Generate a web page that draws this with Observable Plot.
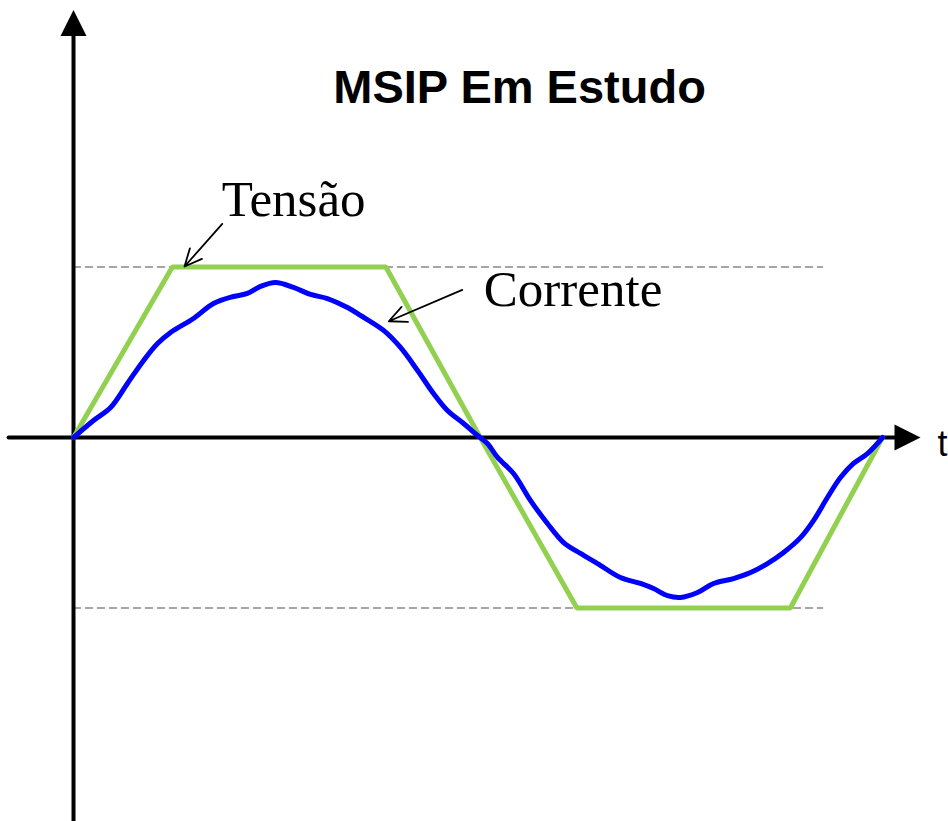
<!DOCTYPE html>
<html>
<head>
<meta charset="utf-8">
<script src="https://cdn.jsdelivr.net/npm/d3@7"></script>
<script src="https://cdn.jsdelivr.net/npm/@observablehq/plot@0.6"></script>
<style>
  html, body { margin: 0; padding: 0; background: #fff; overflow: hidden; }
  #chart svg { display: block; }
</style>
</head>
<body>
<div id="chart"></div>
<script>
// ---- Data (angle in degrees over one period, amplitude in per-unit) ----
const titleText = "MSIP Em Estudo";
const tensaoLabel = "Tensão";
const correnteLabel = "Corrente";
const axisLabel = "t";

// Voltage (trapezoid) – corners
const voltageT = [0, 44, 139, 181, 224, 319, 360];
const voltageV = [0, 1, 1, 0, -1, -1, 0];

// Current (measured, slightly distorted sine)
const currentT = [0, 8.9, 16.5, 24.0, 31.2, 37.4, 43.2, 53.4, 62.3, 71.2, 77.4, 83.2, 89.9, 97.9, 105.5, 113.0, 121.9, 127.7, 138.0, 145.5, 153.1, 160.2, 166.4, 173.6, 179.8, 184.2, 188.7, 195.8, 203.4, 210.9, 218.1, 225.6, 233.2, 243.4, 252.3, 258.1, 264.3, 270.1, 277.7, 284.8, 293.7, 301.3, 308.8, 316.0, 323.5, 329.3, 335.5, 341.3, 347.1, 353.3, 360.0];
const currentV = [0, 0.10, 0.176, 0.317, 0.452, 0.551, 0.616, 0.698, 0.786, 0.827, 0.845, 0.886, 0.909, 0.880, 0.839, 0.815, 0.762, 0.716, 0.628, 0.528, 0.393, 0.258, 0.158, 0.082, 0.012, -0.035, -0.117, -0.211, -0.370, -0.504, -0.616, -0.680, -0.739, -0.821, -0.856, -0.886, -0.927, -0.938, -0.909, -0.856, -0.827, -0.792, -0.739, -0.674, -0.587, -0.487, -0.352, -0.235, -0.152, -0.094, 0];

// Reference (peak) levels and their extent
const levelValues = [1, -1];
const levelExtentT = [0, 333.3];

// Axes extents
const xAxisT = [-28.9, 365.8];   // horizontal axis (value 0)
const xAxisTip = 376.9;
const yAxisV = [-2.252, 2.358];  // vertical axis (t = 0)
const yAxisTip = 2.507;

// Annotation arrows [x1, y1, x2, y2]
const annotArrows = [
  {x1: 66.2, y1: 1.253, x2: 49.4, y2: 1.003},
  {x1: 173.0, y1: 0.866, x2: 140.3, y2: 0.682}
];
const annotTexts = [
  {t: 66.0, v: 1.30, label: tensaoLabel},
  {t: 182.6, v: 0.77, label: correnteLabel}
];

// ---- Build tables ----
const voltage = voltageT.map((t, i) => ({t, v: voltageV[i]}));
const current = currentT.map((t, i) => ({t, v: currentV[i]}));
const levels = levelValues.flatMap(v => levelExtentT.map(t => ({t, v, g: v})));

// custom arrowhead symbol, tip at the anchor point, pointing up
const arrowHead = {
  draw(ctx) {
    ctx.moveTo(0, 0);
    ctx.lineTo(-13, 26);
    ctx.lineTo(13, 26);
    ctx.closePath();
  }
};

const chart = Plot.plot({
  width: 948,
  height: 821,
  margin: 0,
  x: {domain: [-32.49, 389.37], axis: null},
  y: {domain: [-2.252, 2.563], axis: null},
  marks: [
    // dashed peak levels
    Plot.line(levels, {x: "t", y: "v", z: "g", stroke: "#888888", strokeWidth: 1.6, strokeDasharray: "7,5"}),
    // axes
    Plot.line(xAxisT.map(t => ({t, v: 0})), {x: "t", y: "v", stroke: "black", strokeWidth: 4}),
    Plot.line(yAxisV.map(v => ({t: 0, v})), {x: "t", y: "v", stroke: "black", strokeWidth: 4}),
    Plot.dot([{t: 0, v: yAxisTip}], {x: "t", y: "v", symbol: arrowHead, fill: "black", stroke: "none"}),
    Plot.dot([{t: xAxisTip, v: 0}], {x: "t", y: "v", symbol: arrowHead, rotate: 90, fill: "black", stroke: "none"}),
    // voltage
    Plot.line(voltage, {x: "t", y: "v", stroke: "#92d050", strokeWidth: 5, strokeLinejoin: "miter"}),
    // current
    Plot.line(current, {x: "t", y: "v", stroke: "#0000ff", strokeWidth: 5, curve: "catmull-rom"}),
    // annotation arrows
    Plot.arrow(annotArrows, {x1: "x1", y1: "y1", x2: "x2", y2: "y2", stroke: "black", strokeWidth: 1.8, headLength: 16, headAngle: 50}),
    // annotation texts
    Plot.text(annotTexts, {x: "t", y: "v", text: "label", textAnchor: "start", lineAnchor: "bottom", fontFamily: "Liberation Serif", fontSize: 51, fill: "black"}),
    // title
    Plot.text([titleText], {x: () => 198.5, y: () => 1.96, text: d => d, lineAnchor: "bottom", fontFamily: "Liberation Sans, Arial", fontWeight: "bold", fontSize: 47, fill: "black"}),
    // axis label
    Plot.text([axisLabel], {x: () => 384.5, y: () => -0.11, text: d => d, textAnchor: "start", lineAnchor: "bottom", fontFamily: "Liberation Sans, Arial", fontSize: 36, fill: "black"})
  ]
});
document.getElementById("chart").appendChild(chart);
</script>
</body>
</html>
